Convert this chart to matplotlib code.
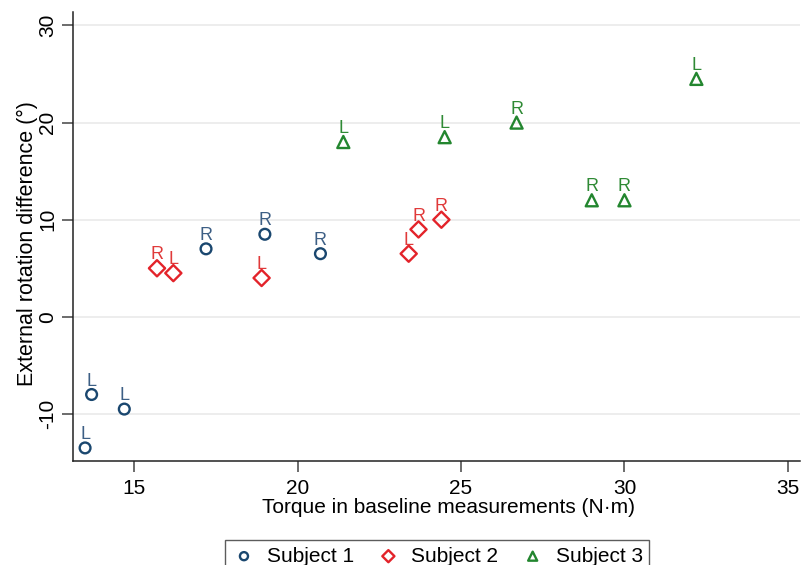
import matplotlib
matplotlib.use("Agg")
import matplotlib.pyplot as plt

plt.rcParams['font.family'] = ['Liberation Sans', 'DejaVu Sans']

# Subject 1
s1_x = [13.5, 13.7, 14.7, 17.2, 19.0, 20.7]
s1_y = [-13.5, -8.0, -9.5, 7.0, 8.5, 6.5]
s1_lab = ['L', 'L', 'L', 'R', 'R', 'R']

# Subject 2
s2_x = [15.7, 16.2, 18.9, 23.4, 23.7, 24.4]
s2_y = [5.0, 4.5, 4.0, 6.5, 9.0, 10.0]
s2_lab = ['R', 'L', 'L', 'L', 'R', 'R']

# Subject 3
s3_x = [21.4, 24.5, 26.7, 29.0, 30.0, 32.2]
s3_y = [18.0, 18.5, 20.0, 12.0, 12.0, 24.5]
s3_lab = ['L', 'L', 'R', 'R', 'R', 'L']

x_ticks = [15, 20, 25, 30, 35]
y_ticks = [-10, 0, 10, 20, 30]

fig = plt.figure(figsize=(8.02, 5.65), dpi=100)
ax = fig.add_axes([0.091, 0.184, 0.9065, 0.795])

series = [
    (s1_x, s1_y, s1_lab, 'o', '#1a476f', '#3d5f85', 'Subject 1', 60),
    (s2_x, s2_y, s2_lab, 'D', '#e3232a', '#e03a3a', 'Subject 2', 68),
    (s3_x, s3_y, s3_lab, '^', '#23862f', '#2f8a35', 'Subject 3', 75),
]

for xs, ys, labs, mk, col, lcol, name, sz in series:
    ax.scatter(xs, ys, marker=mk, s=sz, facecolors='none', edgecolors=col,
               linewidths=1.7, label=name, zorder=3)
    for x, y, t in zip(xs, ys, labs):
        ax.annotate(t, (x, y), xytext=(0, 3.5), textcoords='offset points',
                    ha='center', va='bottom', fontsize=13, color=lcol)

ax.set_xlim(13.13, 35.37)
ax.set_ylim(-14.85, 31.4)
ax.set_xticks(x_ticks)
ax.set_yticks(y_ticks)
ax.set_yticklabels([str(v) for v in y_ticks], rotation=90, va='center')
ax.tick_params(axis='both', labelsize=15, length=8, width=1.1, color='#444444')
ax.tick_params(axis='x', pad=5)
ax.tick_params(axis='y', pad=3.5)
ax.grid(axis='y', color='#eaeaea', linewidth=1.2)
ax.set_axisbelow(True)

for sp in ['top', 'right']:
    ax.spines[sp].set_visible(False)
for sp in ['left', 'bottom']:
    ax.spines[sp].set_color('#222222')
    ax.spines[sp].set_linewidth(1.1)

ax.set_xlabel('Torque in baseline measurements (N\u00b7m)', fontsize=15)
ax.set_ylabel('External rotation difference (\u00b0)', fontsize=15.5)
ax.xaxis.set_label_coords(0.517, -0.082)
ax.yaxis.set_label_coords(-0.048, 0.485)

leg = fig.legend(loc='upper center', bbox_to_anchor=(0.545, 0.062), ncol=3,
                 fontsize=15, frameon=True, fancybox=False, edgecolor='#333333',
                 handlelength=1.2, handletextpad=0.5, columnspacing=1.05,
                 borderpad=0.3, scatterpoints=1, markerscale=0.75)
leg.get_frame().set_linewidth(1.0)

fig.savefig('out.png', dpi=100)
